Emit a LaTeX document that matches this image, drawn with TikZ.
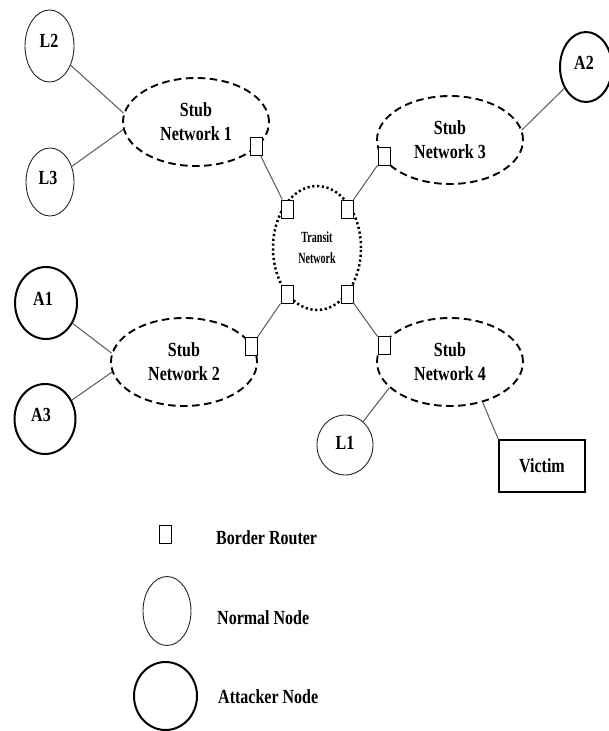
\documentclass[tikz,border=0pt]{standalone}
\usepackage{fontspec}
\setmainfont{Liberation Serif}[FakeStretch=0.8]
\newfontfamily\transitfont{Liberation Serif}[FakeStretch=0.65]
\usetikzlibrary{shapes.geometric}
\begin{document}
\begin{tikzpicture}[x=1pt,y=-1pt,
  every node/.style={inner sep=0pt},
  txt/.style={font=\fontsize{20}{24}\selectfont\bfseries, align=center},
  normalnode/.style={draw=black!85, ellipse, line width=0.9pt},
  attackernode/.style={draw=black, ellipse, line width=2pt},
  stubnet/.style={draw, ellipse, dash pattern=on 7.5pt off 4.5pt, line width=1.9pt,
    minimum width=146pt, minimum height=88pt, txt},
  transitnet/.style={draw, ellipse, dash pattern=on 2.2pt off 2.6pt, line width=2.5pt,
    minimum width=88pt, minimum height=124pt,
    font=\transitfont\fontsize{15.5}{21}\selectfont\bfseries, align=center},
  router/.style={draw, rectangle, fill=white, line width=1pt,
    minimum width=12pt, minimum height=18pt},
  link/.style={draw=black!65, line width=1pt}
]
\useasboundingbox (0,0) rectangle (608,731);

% stub and transit networks
\node (s1) [stubnet] at (196,122) {Stub\\Network 1};
\node (s3) [stubnet] at (450,140) {Stub\\Network 3};
\node (s2) [stubnet] at (184,362) {Stub\\Network 2};
\node (s4) [stubnet] at (450,362) {Stub\\Network 4};
\node (tn) [transitnet] at (317,248) {Transit\\Network};

% hosts
\node (l2) [normalnode, minimum width=49pt, minimum height=72pt] at (49.5,46) {};
\node (l3) [normalnode, minimum width=48pt, minimum height=68pt] at (50,182) {};
\node (l1) [normalnode, minimum width=56pt, minimum height=60pt] at (345,445) {};
\node (a1) [attackernode, minimum width=62pt, minimum height=72pt] at (46,303) {};
\node (a3) [attackernode, minimum width=61pt, minimum height=70pt] at (45,419) {};
\node (a2) [attackernode, minimum width=52pt, minimum height=70pt] at (586,67) {};
\node (l2t) [txt] at (49,41) {L2};
\node (l3t) [txt] at (48,178) {L3};
\node (l1t) [txt] at (345,443) {L1};
\node (a1t) [txt] at (43,299) {A1};
\node (a3t) [txt] at (41,415) {A3};
\node (a2t) [txt] at (584,63) {A2};
\node (victim) [draw, rectangle, line width=1.2pt, minimum width=86pt, minimum height=52pt, txt] at (542,466) {Victim};

% border routers
\node (r1) [router] at (256,146.5) {};
\node (r3) [router] at (384,156) {};
\node (r2) [router] at (251,346.5) {};
\node (r4) [router] at (384,345.5) {};
\node (tl) [router] at (287,209) {};
\node (tr) [router] at (347,209) {};
\node (bl) [router] at (287,294) {};
\node (br) [router] at (347,294) {};

% connectors
\draw[link] (l2) -- (s1.173);
\draw[link] (l3) -- (s1.186);
\draw[link] (a2) -- (s3.8);
\draw[link] (a1) -- (s2.173);
\draw[link] (a3) -- (s2.188);
\draw[link] (l1) -- (s4.203);
\draw[link] (s4.-51) -- (victim.north west);
\draw[link] (r1) -- (tl);
\draw[link] (r3) -- (tr);
\draw[link] (r2) -- (bl);
\draw[link] (br) -- (r4);

% legend
\node (lgr) [router] at (165.5,534) {};
\node (lgrt) [txt, anchor=west] at (216,538) {Border Router};
\node (lgn) [normalnode, minimum width=48pt, minimum height=69pt] at (167,611) {};
\node (lgnt) [txt, anchor=west] at (217,618) {Normal Node};
\node (lga) [attackernode, minimum width=63pt, minimum height=68pt] at (165.5,696) {};
\node (lgat) [txt, anchor=west] at (218,697) {Attacker Node};
\end{tikzpicture}
\end{document}
